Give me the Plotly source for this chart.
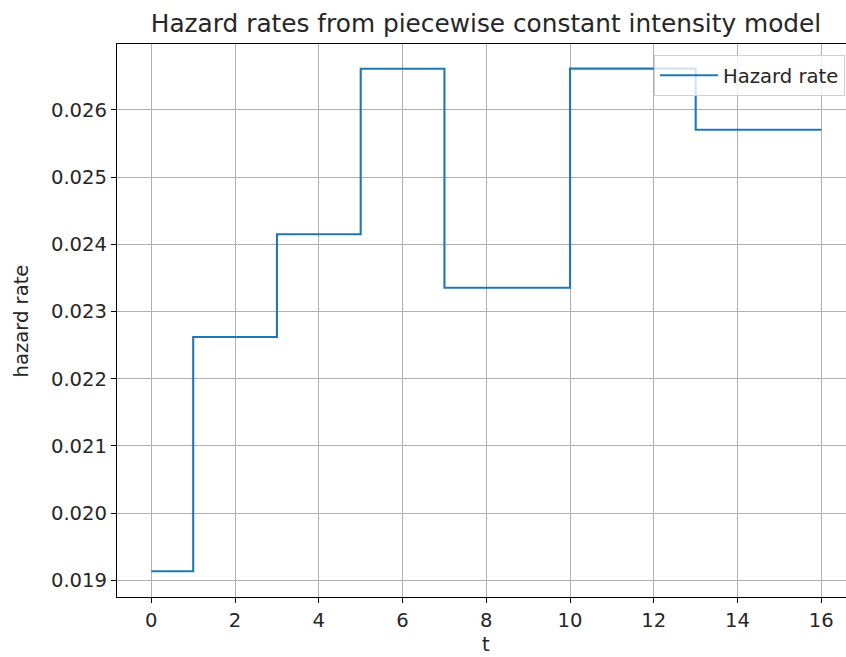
import plotly.graph_objects as go

# Data: breakpoints (t) and piecewise constant hazard rates
t_points = [0, 1, 3, 5, 7, 10, 13, 16]
hazard_rates = [0.019134, 0.022620, 0.024148, 0.026610, 0.023352, 0.026612, 0.025703]
x_ticks = [0, 2, 4, 6, 8, 10, 12, 14, 16]
y_ticks = [0.019, 0.020, 0.021, 0.022, 0.023, 0.024, 0.025, 0.026]

y_vals = hazard_rates + [hazard_rates[-1]]

FONT = "DejaVu Sans"
fs = 19.6

fig = go.Figure()
fig.add_trace(go.Scatter(
    x=t_points, y=y_vals, mode="lines", line_shape="hv",
    line=dict(color="#1f77b4", width=2.1), name="Hazard rate",
    showlegend=True,
))

W, H = 846, 657
L, R, T, B = 117, 0, 44, 60

fig.update_layout(
    width=W, height=H,
    margin=dict(l=L, r=R, t=T, b=B),
    paper_bgcolor="white", plot_bgcolor="white",
    font=dict(family=FONT, size=fs, color="#262626"),
    title=dict(text="Hazard rates from piecewise constant intensity model",
               x=(486 - L) / (W - L), xref="paper", xanchor="center",
               y=1 - 23 / H, yref="container", yanchor="middle",
               font=dict(size=24.8, family=FONT, color="#262626")),
    showlegend=True,
    legend=dict(x=0.9986, xanchor="right", y=0.98, yanchor="top",
                bgcolor="rgba(255,255,255,0.8)", bordercolor="#d0d0d0", borderwidth=1,
                itemwidth=58,
                font=dict(size=fs, family=FONT, color="#262626")),
    xaxis=dict(range=[-0.82, 16.59], tickvals=x_ticks, ticktext=[str(v) for v in x_ticks],
               showgrid=True, gridcolor="#b0b0b0", gridwidth=1.1, automargin=False,
               zeroline=False, showline=True, linecolor="black", linewidth=1.1,
               mirror=True, ticks="outside", ticklen=5, tickwidth=1.1, tickcolor="black"),
    yaxis=dict(range=[0.018752, 0.026979], tickvals=y_ticks,
               ticktext=[f"{v:.3f}" for v in y_ticks], automargin=False,
               showgrid=True, gridcolor="#b0b0b0", gridwidth=1.1,
               zeroline=False, showline=True, linecolor="black", linewidth=1.1,
               ticks="outside", ticklen=5, tickwidth=1.1, tickcolor="black"),
    annotations=[
        dict(text="t", xref="paper", yref="paper",
             x=(486 - L) / (W - L), y=-(644 - (H - B)) / (H - T - B),
             xanchor="center", yanchor="middle", showarrow=False,
             font=dict(size=fs, family=FONT, color="#262626")),
        dict(text="hazard rate", xref="paper", yref="paper",
             x=-(L - 21) / (W - L), y=0.5, textangle=-90,
             xanchor="center", yanchor="middle", showarrow=False,
             font=dict(size=fs, family=FONT, color="#262626")),
    ],
)

fig.write_html("out.html")
